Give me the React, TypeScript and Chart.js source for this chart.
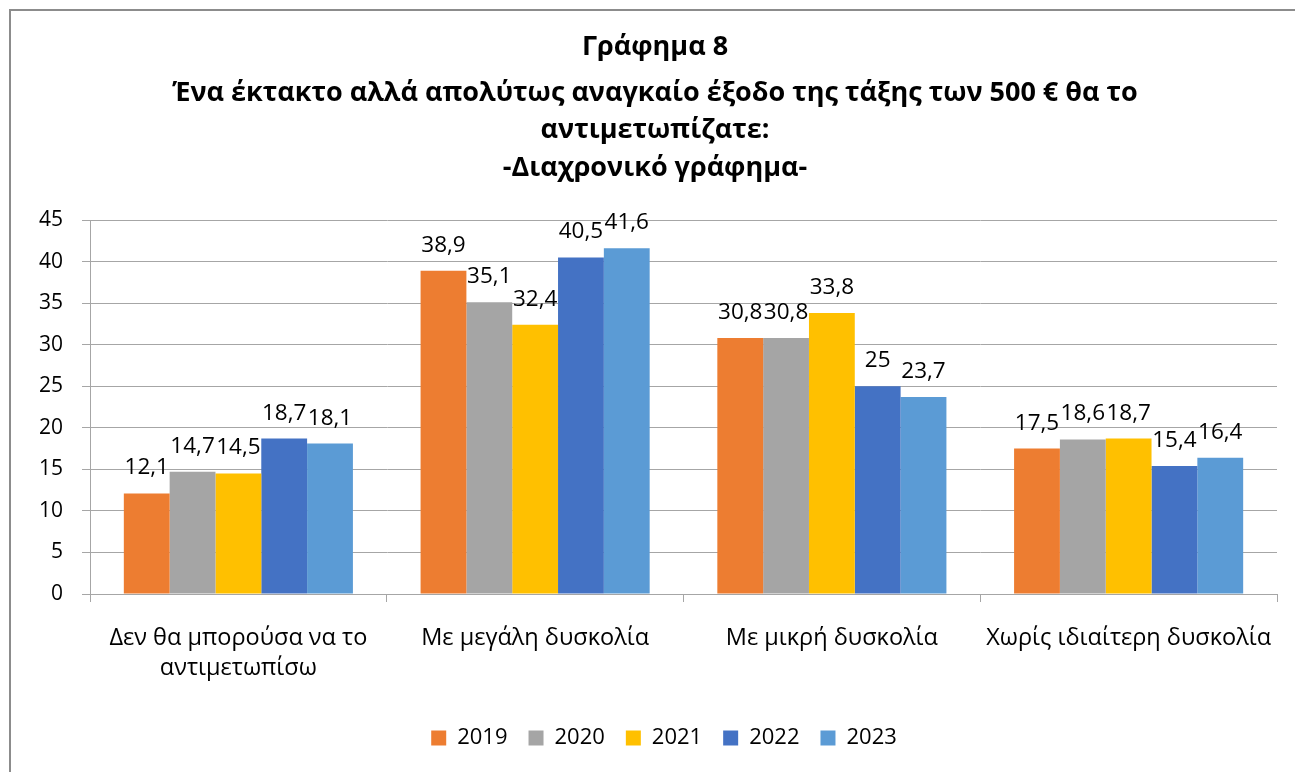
import React, { useEffect, useRef } from "react";
import { Chart, registerables } from "chart.js";

Chart.register(...registerables);

const categories: (string | string[])[] = [
  ["Δεν θα μπορούσα να το", "αντιμετωπίσω"],
  "Με μεγάλη δυσκολία",
  "Με μικρή δυσκολία",
  "Χωρίς ιδιαίτερη δυσκολία",
];
const years = ["2019", "2020", "2021", "2022", "2023"];
const values2019 = [12.1, 38.9, 30.8, 17.5];
const values2020 = [14.7, 35.1, 30.8, 18.6];
const values2021 = [14.5, 32.4, 33.8, 18.7];
const values2022 = [18.7, 40.5, 25, 15.4];
const values2023 = [18.1, 41.6, 23.7, 16.4];
const seriesValues = [values2019, values2020, values2021, values2022, values2023];
const seriesColors = ["#ED7D31", "#A5A5A5", "#FFC000", "#4472C4", "#5B9BD5"];
const yMin = 0;
const yMax = 45;
const yStep = 5;
const titleText = "Γράφημα 8";
const subtitleLines = [
  "Ένα έκτακτο αλλά απολύτως αναγκαίο έξοδο της τάξης των 500 € θα το",
  "αντιμετωπίζατε:",
  "-Διαχρονικό γράφημα-",
];

const FONT = "'Open Sans', 'Noto Sans', sans-serif";
const GRID = "#a6a6a6";

const formatValue = (v: number) => String(v).replace(".", ",");

const framePlugin = {
  id: "frame",
  beforeDraw(chart: any) {
    const ctx = chart.ctx;
    ctx.save();
    ctx.fillStyle = "#ffffff";
    ctx.fillRect(0, 0, chart.width, chart.height);
    ctx.strokeStyle = "#8c8c8c";
    ctx.lineWidth = 2;
    ctx.beginPath();
    ctx.moveTo(10, chart.height + 10);
    ctx.lineTo(10, 10);
    ctx.lineTo(chart.width + 10, 10);
    ctx.stroke();
    ctx.restore();
  },
};

const dataLabelPlugin = {
  id: "dataLabels",
  afterDatasetsDraw(chart: any) {
    const ctx = chart.ctx;
    ctx.save();
    ctx.font = `22.5px ${FONT}`;
    ctx.fillStyle = "#000000";
    ctx.textAlign = "center";
    ctx.textBaseline = "alphabetic";
    chart.data.datasets.forEach((ds: any, di: number) => {
      const meta = chart.getDatasetMeta(di);
      meta.data.forEach((el: any, i: number) => {
        ctx.fillText(formatValue(ds.data[i]), el.x, el.y - 19);
      });
    });
    ctx.restore();
  },
};

const legendShiftPlugin = {
  id: "legendShift",
  afterLayout(chart: any) {
    const lg = chart.legend;
    if (lg) {
      lg.left += 9;
      lg.right += 9;
    }
  },
};

export default function App() {
  const canvasRef = useRef<HTMLCanvasElement | null>(null);

  useEffect(() => {
    if (!canvasRef.current) return;
    const chart = new Chart(canvasRef.current, {
      type: "bar",
      data: {
        labels: categories,
        datasets: years.map((y, i) => ({
          label: y,
          data: seriesValues[i],
          backgroundColor: seriesColors[i],
          borderWidth: 0,
          categoryPercentage: 0.772,
          barPercentage: 1,
        })),
      },
      options: {
        responsive: false,
        animation: false,
        devicePixelRatio: 1,
        layout: { padding: { left: 33, right: 18, top: 0, bottom: 13 } },
        plugins: {
          title: {
            display: true,
            text: titleText,
            color: "#000000",
            font: { family: FONT, size: 27, weight: "bold", lineHeight: 1.2 },
            padding: { top: 30.8, bottom: 0 },
          },
          subtitle: {
            display: true,
            text: subtitleLines,
            color: "#000000",
            font: { family: FONT, size: 27, weight: "bold", lineHeight: 1.389 },
            padding: { top: 11.05, bottom: 33.25 },
          },
          legend: {
            display: true,
            position: "bottom",
            labels: {
              boxWidth: 15,
              boxHeight: 15,
              padding: 21,
              color: "#000000",
              font: { family: FONT, size: 22 },
            },
          },
          tooltip: { enabled: false },
        },
        scales: {
          x: {
            grid: {
              display: true,
              drawOnChartArea: false,
              drawTicks: true,
              tickLength: 8,
              color: GRID,
              offset: true,
            },
            border: { display: true, color: GRID, width: 1 },
            ticks: {
              color: "#000000",
              font: { family: FONT, size: 23.5, lineHeight: 1.277 },
              padding: 21,
              maxRotation: 0,
              autoSkip: false,
            },
            afterFit: (s: any) => {
              s.height = 112;
            },
          },
          y: {
            min: yMin,
            max: yMax,
            ticks: {
              stepSize: yStep,
              color: "#000000",
              font: { family: FONT, size: 21 },
              padding: 19,
            },
            grid: { color: GRID, tickLength: 8, drawTicks: true },
            border: { display: true, color: GRID, width: 1 },
            afterFit: (s: any) => {
              s.width = 57;
            },
          },
        },
      },
      plugins: [framePlugin, dataLabelPlugin, legendShiftPlugin],
    } as any);
    return () => chart.destroy();
  }, []);

  return (
    <div style={{ position: "absolute", left: 0, top: 0, width: 1295, height: 772, background: "#fff" }}>
      <canvas ref={canvasRef} width={1295} height={772} style={{ display: "block" }} />
    </div>
  );
}
